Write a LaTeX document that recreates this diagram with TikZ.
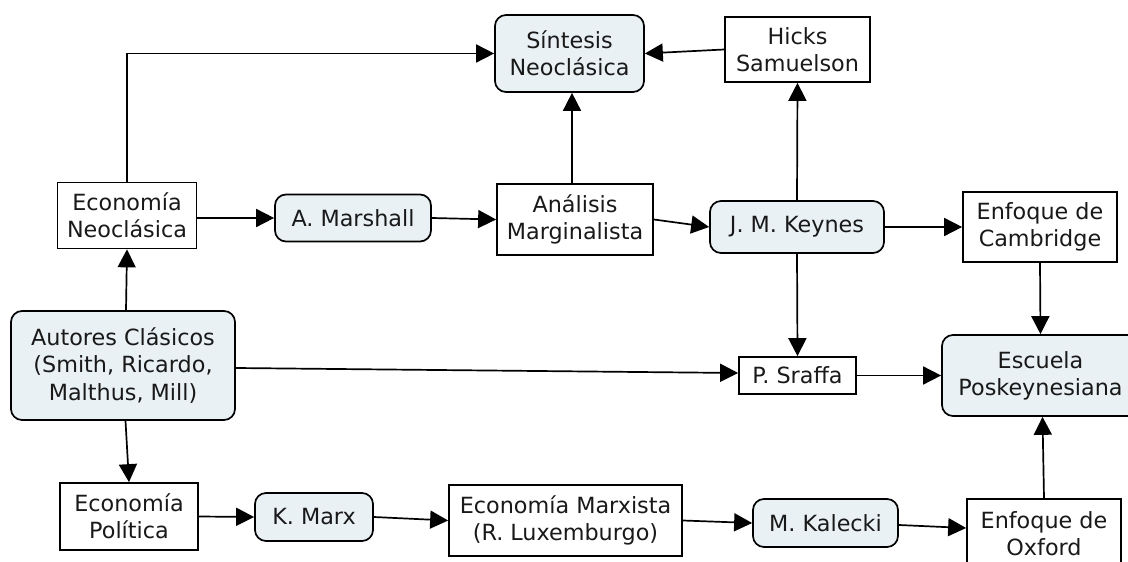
\documentclass[tikz,border=0pt]{standalone}
\usepackage{fontspec}
\setmainfont{DejaVu Sans}
\usetikzlibrary{arrows.meta,calc}
\definecolor{nodefill}{RGB}{233,241,245}
\tikzset{
  base/.style={draw=black, line width=1.7bp, inner sep=0pt, align=center,
    font=\fontsize{22.3bp}{27.3bp}\selectfont, text=black!90},
  sqbox/.style={base, fill=white},
  rbox/.style={base, fill=nodefill, rounded corners=11bp},
  arr/.style={draw=black, line width=1.7bp, -{Triangle[length=18bp,width=18bp]}},
}
\begin{document}
\begin{tikzpicture}[x=1bp,y=-1bp]
\useasboundingbox[fill=white] (0,0) rectangle (1128,562);
\node[sqbox, minimum width=139bp, minimum height=66bp] (econneo) at (127,215.5) {Economía\\Neoclásica};
\node[rbox, minimum width=156bp, minimum height=47bp] (marshall) at (353,218) {A. Marshall};
\node[rbox, minimum width=149bp, minimum height=77bp] (sintesis) at (569.5,53.5) {Síntesis\\Neoclásica};
\node[sqbox, minimum width=156bp, minimum height=71bp] (analisis) at (575,219.5) {Análisis\\Marginalista};
\node[sqbox, minimum width=145bp, minimum height=65bp] (hicks) at (797.5,49.5) {Hicks\\Samuelson};
\node[rbox, minimum width=174bp, minimum height=52bp] (keynes) at (797,227) {J. M. Keynes};
\node[sqbox, minimum width=154bp, minimum height=70bp] (cambridge) at (1040,227) {Enfoque de\\Cambridge};
\node[rbox, minimum width=224bp, minimum height=109bp] (autores) at (123,365.5) {Autores Clásicos\\(Smith, Ricardo,\\Malthus, Mill)};
\node[sqbox, minimum width=117bp, minimum height=37bp] (sraffa) at (797.5,375.5) {P. Sraffa};
\node[rbox, minimum width=197bp, minimum height=81bp] (escuela) at (1040.5,375.5) {Escuela\\Poskeynesiana};
\node[sqbox, minimum width=138bp, minimum height=67bp] (econpol) at (129,516.5) {Economía\\Política};
\node[rbox, minimum width=118bp, minimum height=48bp] (kmarx) at (314,517) {K. Marx};
\node[sqbox, minimum width=233bp, minimum height=71bp] (econmarx) at (565.5,520.5) {Economía Marxista\\(R. Luxemburgo)};
\node[rbox, minimum width=145bp, minimum height=48bp] (kalecki) at (825.5,523) {M. Kalecki};
\node[sqbox, minimum width=154bp, minimum height=70bp] (oxford) at (1044,534) {Enfoque de\\Oxford};

\draw[arr] (econneo.north) |- (sintesis.west);
\draw[arr] (econneo.east |- marshall.west) -- (marshall.west);
\draw[arr] (marshall.east) -- (analisis.west);
\draw[arr] ($(analisis.north)+(-3,0)$) -- ($(sintesis.south)+(2.5,0)$);
\draw[arr] (hicks.west) -- (sintesis.east);
\draw[arr] (analisis.east) -- (keynes.west);
\draw[arr] (keynes.north) -- (hicks.south);
\draw[arr] (keynes.east) -- (cambridge.west);
\draw[arr] (keynes.south) -- (sraffa.north);
\draw[arr] (cambridge.south) -- (escuela.north);
\draw[arr] ($(autores.north)+(3,0)$) -- (econneo.south);
\draw[arr] ($(autores.south)+(2.5,0)$) -- (econpol.north);
\draw[arr] ($(autores.east)+(0,2.5)$) -- ($(sraffa.west)+(0,-2.5)$);
\draw[arr] (sraffa.east) -- (escuela.west);
\draw[arr] (econpol.east) -- (kmarx.west);
\draw[arr] (kmarx.east) -- (econmarx.west);
\draw[arr] (econmarx.east) -- (kalecki.west);
\draw[arr] ($(kalecki.east)+(0,2)$) -- ($(oxford.west)+(0,-6)$);
\draw[arr] (oxford.north) -- ($(escuela.south)+(2,0)$);
\end{tikzpicture}
\end{document}
